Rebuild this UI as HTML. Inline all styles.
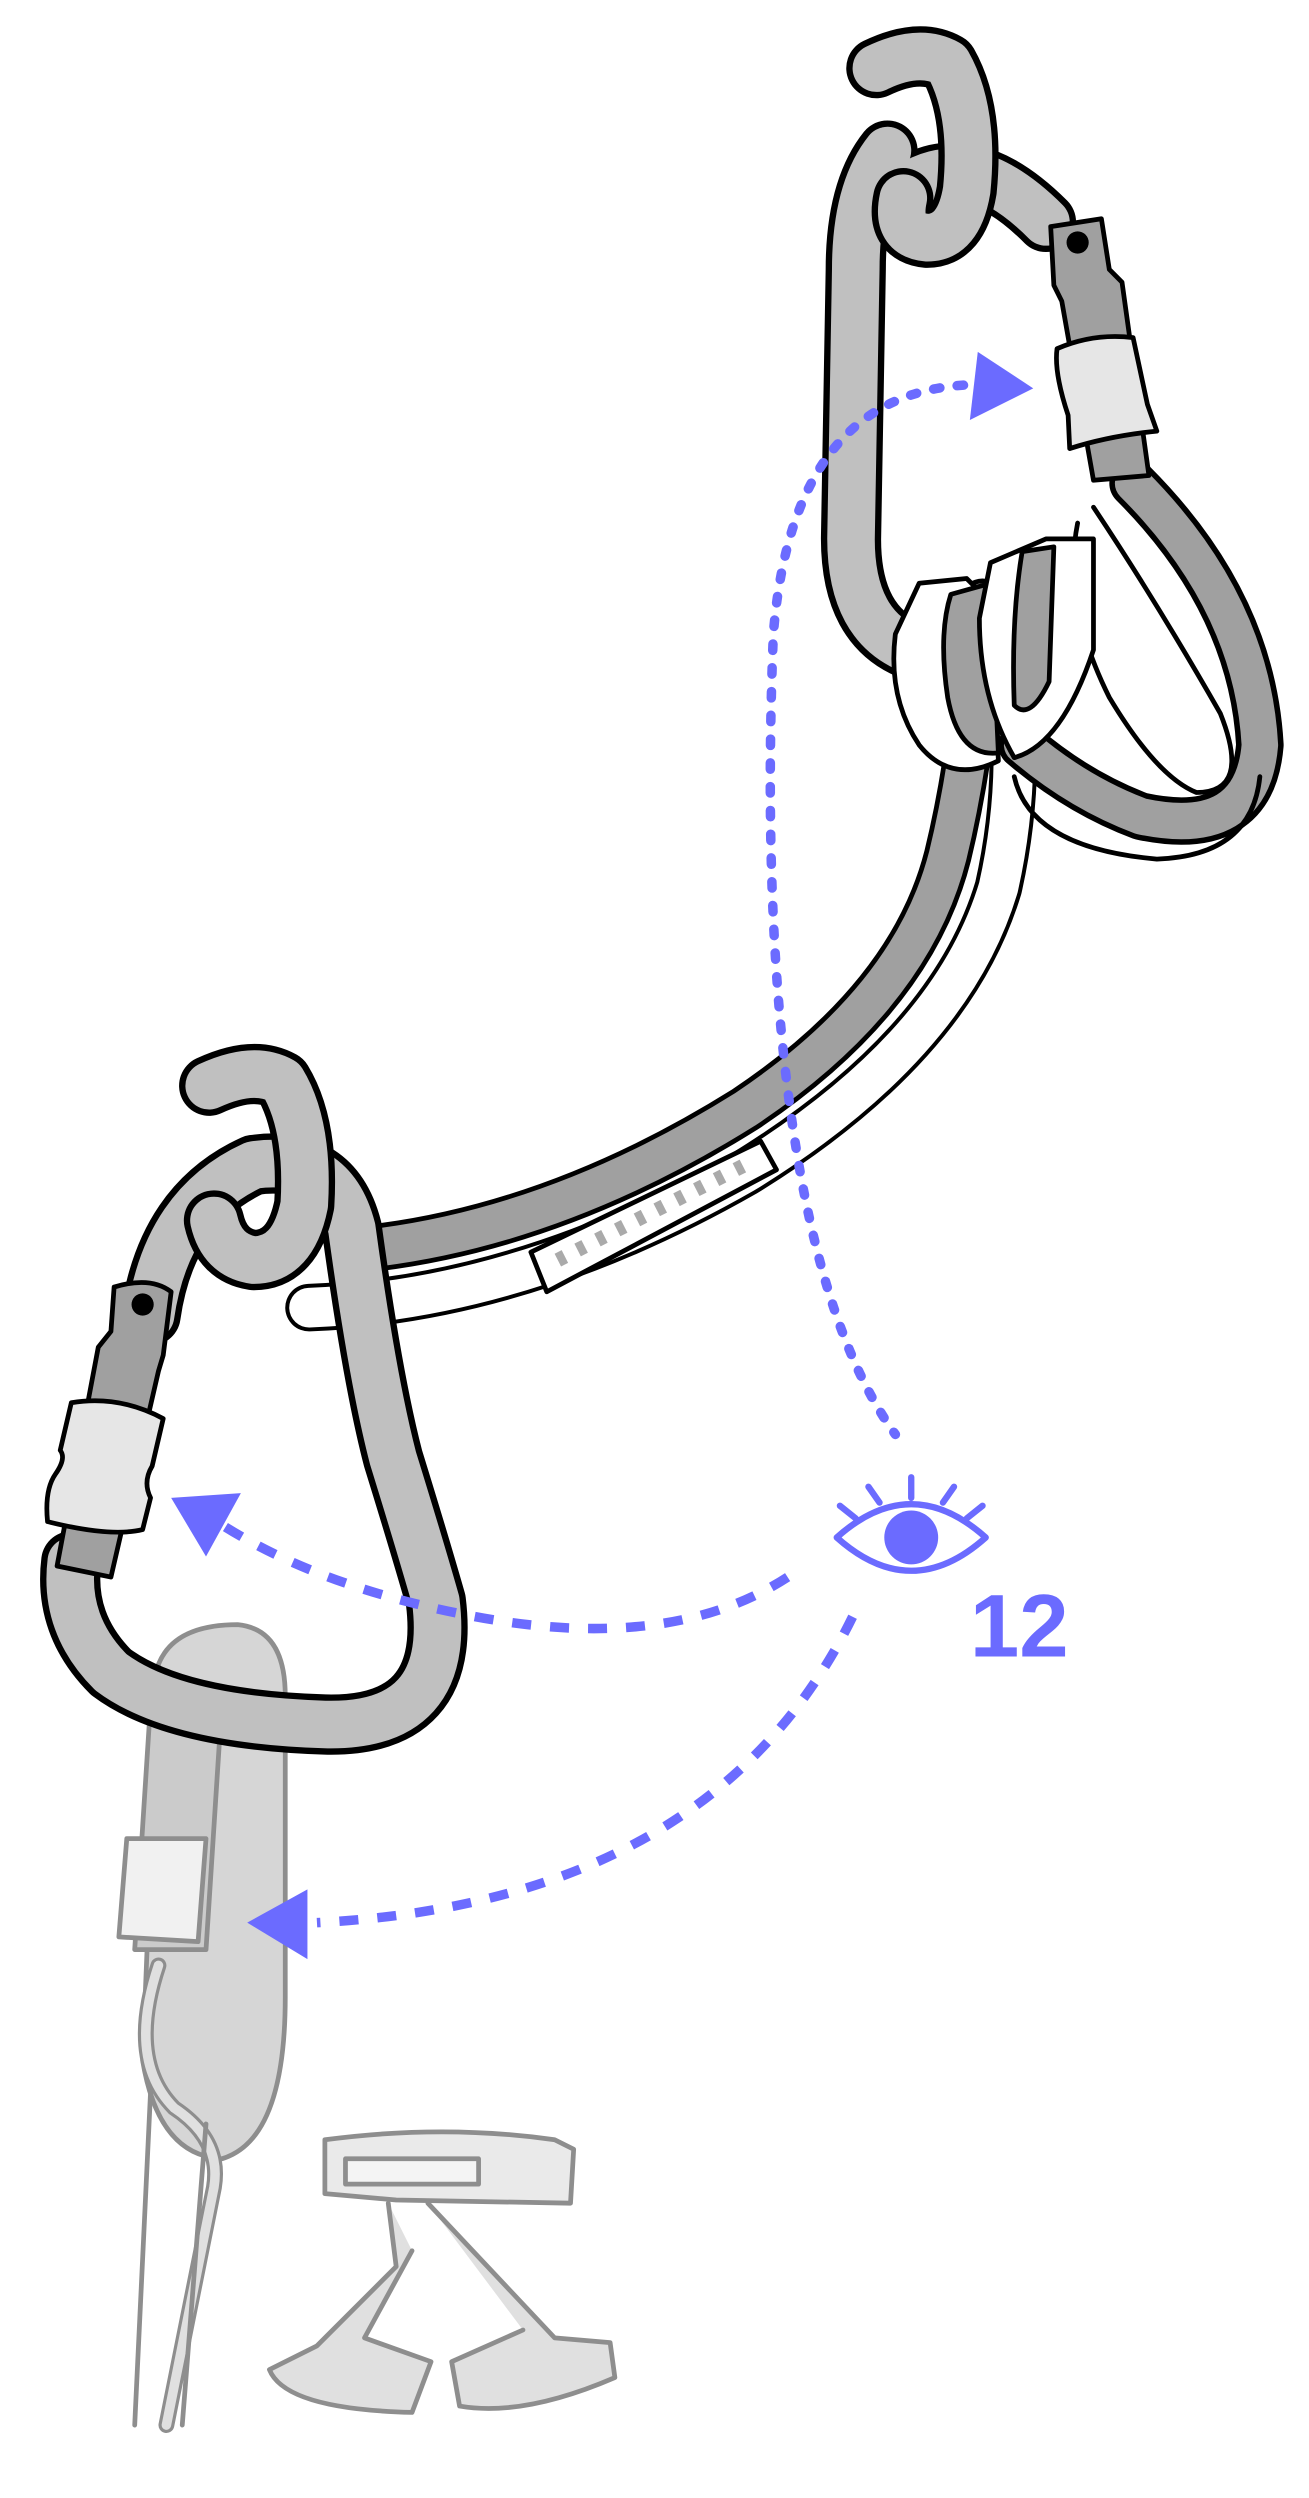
<!DOCTYPE html>
<html><head><meta charset="utf-8"><style>html,body{margin:0;padding:0;background:#fff}svg{display:block}</style></head>
<body>
<svg width="1309" height="2498" viewBox="0 0 826 1576" preserveAspectRatio="none" xmlns="http://www.w3.org/2000/svg" stroke-linejoin="round" stroke-linecap="round">
<!-- faded bottom gear -->
<g opacity="0.6" stroke="#444" stroke-width="3">
  <path d="M100,1050 Q110,1025 150,1025 Q180,1028 180,1070 L180,1260 Q180,1350 140,1362 Q100,1360 90,1300 Z" fill="#bbb"/>
  <path d="M95,1075 L85,1230 L130,1230 L140,1075 Z" fill="#aaa"/>
  <path d="M80,1160 L130,1160 L125,1225 L75,1222 Z" fill="#e8e8e8"/>
  <path d="M100,1240 Q80,1300 110,1330 Q140,1350 135,1380 L105,1530" fill="none" stroke-width="10"/>
  <path d="M100,1240 Q80,1300 110,1330 Q140,1350 135,1380 L105,1530" fill="none" stroke="#ccc" stroke-width="6"/>
  <path d="M95,1320 L85,1530 M130,1340 L115,1530" fill="none"/>
  <path d="M205,1350 Q280,1340 350,1350 L362,1356 L360,1390 L250,1388 L205,1384 Z" fill="#ddd"/>
  <path d="M218,1362 L302,1362 L302,1378 L218,1378 Z" fill="#eee"/>
  <path d="M245,1390 L250,1430 L200,1480 L170,1495 Q180,1520 260,1522 L272,1490 L230,1475 L260,1420 M270,1390 L350,1475 L385,1478 L388,1500 Q330,1525 290,1518 L285,1490 L330,1470" fill="#ccc"/>
</g>
<!-- main sling -->
<path d="M620,380 Q615,470 598,540 Q575,630 470,700 Q350,775 230,788" fill="none" stroke="#000" stroke-width="30"/>
<path d="M620,380 Q615,470 598,540 Q575,630 470,700 Q350,775 230,788" fill="none" stroke="#a0a0a0" stroke-width="24"/>
<path d="M632,400 Q648,480 630,560 Q600,660 470,740 Q330,820 195,825" fill="none" stroke="#000" stroke-width="30"/>
<path d="M632,400 Q648,480 630,560 Q600,660 470,740 Q330,820 195,825" fill="none" stroke="#fff" stroke-width="25"/>
<path d="M335,790 L480,720 L490,738 L345,815 Z" fill="#fff" stroke="#000" stroke-width="3"/>
<path d="M352,795 L470,735" stroke="#aaa" stroke-width="9" stroke-dasharray="5 9" stroke-linecap="butt"/>
<!-- right loop -->
<path d="M715,305 Q790,380 795,470 Q790,530 720,515 Q680,500 645,470" fill="none" stroke="#000" stroke-width="30"/>
<path d="M715,305 Q790,380 795,470 Q790,530 720,515 Q680,500 645,470" fill="none" stroke="#a0a0a0" stroke-width="23"/>
<path d="M640,490 Q650,535 730,542 Q790,540 795,490" fill="none" stroke="#000" stroke-width="3"/>
<path d="M690,320 Q730,380 770,450 Q790,500 755,500 Q730,490 700,440 Q670,380 680,330" fill="#fff" stroke="#000" stroke-width="3"/>
<!-- top carabiner -->
<g fill="none">
<path d="M560,95 Q540,120 540,170 L537,340 Q537,395 575,410 M570,120 Q610,90 660,140" stroke="#000" stroke-width="38"/>
<path d="M560,95 Q540,120 540,170 L537,340 Q537,395 575,410 M570,120 Q610,90 660,140" stroke="#c0c0c0" stroke-width="30"/>
<path d="M553,43 Q580,30 598,40 Q615,70 610,120 Q605,150 585,150 Q565,148 570,125" stroke="#000" stroke-width="38"/>
<path d="M553,43 Q580,30 598,40 Q615,70 610,120 Q605,150 585,150 Q565,148 570,125" stroke="#c0c0c0" stroke-width="30"/>
</g>
<path d="M663,143 L695,138 L700,170 L708,178 L725,300 L690,303 L670,190 L665,180 Z" fill="#a0a0a0" stroke="#000" stroke-width="3"/>
<circle cx="680" cy="153" r="7" fill="#000"/>
<path d="M667,220 Q690,210 715,213 L724,255 L730,272 Q700,275 675,283 L674,262 Q665,235 667,220 Z" fill="#e6e6e6" stroke="#000" stroke-width="3"/>
<!-- knot -->
<path d="M580,368 L610,365 L625,380 L630,480 Q600,495 580,470 Q560,440 565,400 Z" fill="#fff" stroke="#000" stroke-width="3"/>
<path d="M600,375 L625,368 L630,475 Q605,478 598,440 Q592,400 600,375 Z" fill="#a0a0a0" stroke="#000" stroke-width="3"/>
<path d="M625,355 L660,340 L690,340 L690,410 Q670,470 640,478 Q618,440 618,390 Z" fill="#fff" stroke="#000" stroke-width="3"/>
<path d="M645,348 L665,345 L662,430 Q650,455 640,445 Q638,390 645,348 Z" fill="#a0a0a0" stroke="#000" stroke-width="3"/>
<!-- bottom carabiner -->
<g fill="none">
<path d="M95,830 Q105,760 160,735 Q210,728 222,775 Q235,870 248,920 Q265,975 275,1010 Q285,1090 205,1088 Q110,1085 70,1055 Q40,1025 45,985" stroke="#000" stroke-width="38"/>
<path d="M95,830 Q105,760 160,735 Q210,728 222,775 Q235,870 248,920 Q265,975 275,1010 Q285,1090 205,1088 Q110,1085 70,1055 Q40,1025 45,985" stroke="#c0c0c0" stroke-width="30"/>
<path d="M132,685 Q160,672 178,682 Q195,710 192,760 Q185,795 160,795 Q140,792 135,770" stroke="#000" stroke-width="38"/>
<path d="M132,685 Q160,672 178,682 Q195,710 192,760 Q185,795 160,795 Q140,792 135,770" stroke="#c0c0c0" stroke-width="30"/>
</g>
<path d="M72,812 Q95,805 108,815 L103,855 L100,865 L70,995 L36,988 L62,850 L70,840 Z" fill="#a0a0a0" stroke="#000" stroke-width="3"/>
<circle cx="90" cy="823" r="7" fill="#000"/>
<path d="M45,885 Q75,880 103,895 L96,925 Q90,935 95,945 L90,965 Q70,970 30,960 Q28,940 35,930 Q42,920 38,915 Z" fill="#e6e6e6" stroke="#000" stroke-width="3"/>
<!-- blue -->
<g stroke="#6b6bff" fill="none" stroke-width="6">
<path d="M608,243 Q500,250 488,400 Q480,600 505,740 Q525,850 565,905" stroke-dasharray="4 11"/>
<path d="M497,995 Q420,1045 290,1018 Q200,1000 140,962" stroke-dasharray="12 12" stroke-linecap="butt"/>
<path d="M538,1020 Q450,1200 200,1213" stroke-dasharray="12 12" stroke-linecap="butt"/>
<path d="M528,970 Q575,928 622,970 Q575,1012 528,970 Z" stroke-width="4"/>
<path d="M530,950 L540,958 M548,938 L555,948 M575,932 L575,945 M602,938 L595,948 M620,950 L610,958" stroke-width="4"/>
</g>
<g fill="#6b6bff">
<path d="M617,222 L652,245 L612,265 Z"/>
<path d="M108,945 L152,942 L130,982 Z"/>
<path d="M156,1213 L194,1192 L194,1236 Z"/>
<circle cx="575" cy="970" r="17"/>
<text x="612" y="1045" font-family="Liberation Sans, sans-serif" font-weight="bold" font-size="56">12</text>
</g>
</svg>
</body></html>
